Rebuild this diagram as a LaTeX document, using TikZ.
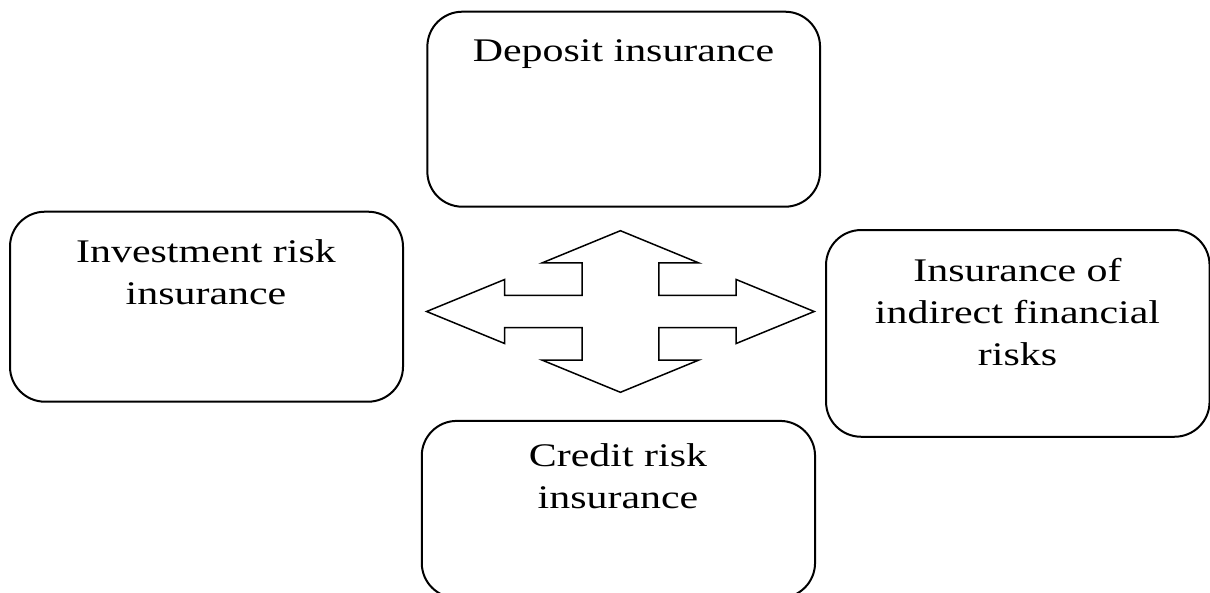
\documentclass[tikz,border=0pt]{standalone}
\usepackage{fontspec}
\newfontfamily\boxfont[FakeStretch=1.27]{Liberation Serif}
\begin{document}
\begin{tikzpicture}[x=1pt,y=-1pt,
  box/.style={draw=black, line width=2pt, rounded corners=35pt, inner sep=0pt, fill=none},
  txt/.style={inner sep=0pt, anchor=base, align=center, font=\boxfont\fontsize{33}{42}\selectfont},
  blockarrow/.style={draw=black, line width=1.5pt, fill=white, line join=miter}]
\useasboundingbox (0,0) rectangle (1210,592);
\clip (0,0) rectangle (1210,592);
% boxes
\node[box, minimum width=392.7pt, minimum height=195pt] (dep) at (623.7,109.2) {};
\node[box, minimum width=393pt, minimum height=190pt] (inv) at (206.5,306.7) {};
\node[box, minimum width=383.5pt, minimum height=206.7pt] (ind) at (1017.8,333.4) {};
\node[box, minimum width=393.3pt, minimum height=177pt] (cre) at (618.4,509.4) {};
% texts (anchor base = baseline of the last line)
\node[txt] (tdep) at (623.5,61.7) {Deposit insurance};
\node[txt] (tinv) at (206,304) {Investment risk\\insurance};
\node[txt] (tind) at (1017.5,365.7) {Insurance of\\indirect financial\\risks};
\node[txt] (tcre) at (618,508) {Credit risk\\insurance};
% four-way block arrow
\coordinate (c) at (620.4,311.5);
\begin{scope}[shift={(c)}]
\draw[blockarrow]
  (0,-80.8) -- (78.3,-48.6) -- (38.35,-48.6) -- (38.35,-16.2) -- (115.8,-16.2) -- (115.8,-32)
  -- (193.8,0) -- (115.8,32) -- (115.8,16.2) -- (38.35,16.2) -- (38.35,48.6) -- (78.3,48.6)
  -- (0,80.8) -- (-78.3,48.6) -- (-38.35,48.6) -- (-38.35,16.2) -- (-115.8,16.2) -- (-115.8,32)
  -- (-193.8,0) -- (-115.8,-32) -- (-115.8,-16.2) -- (-38.35,-16.2) -- (-38.35,-48.6) -- (-78.3,-48.6)
  -- cycle;
\end{scope}
\end{tikzpicture}
\end{document}
